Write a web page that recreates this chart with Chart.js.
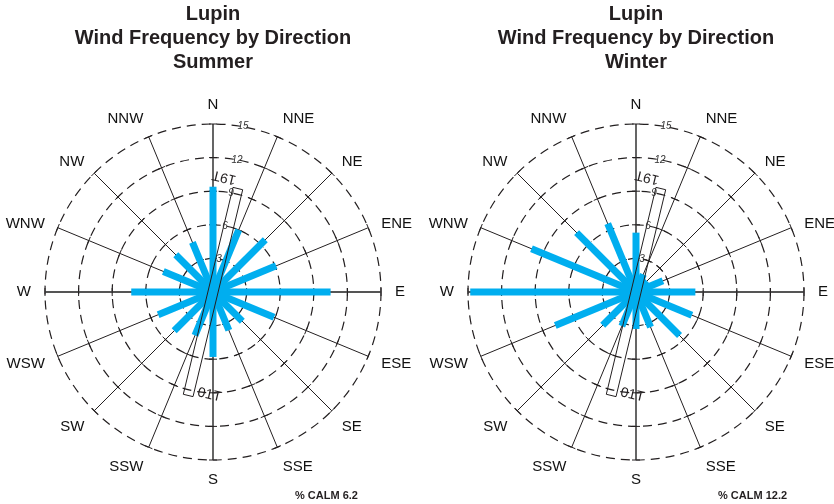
<!DOCTYPE html>
<html>
<head>
<meta charset="utf-8">
<title>Lupin wind frequency</title>
<script src="https://cdn.jsdelivr.net/npm/chart.js@4.4.1/dist/chart.umd.min.js"></script>
<style>
  html, body { margin: 0; padding: 0; background: #fff; overflow: hidden; width: 834px; height: 504px; }
  .wrap { position: absolute; top: 0; width: 420px; height: 504px; }
</style>
</head>
<body>
<div class="wrap" style="left:3px"><canvas id="summerChart" width="420" height="504"></canvas></div>
<div class="wrap" style="left:426px"><canvas id="winterChart" width="420" height="504"></canvas></div>
<script>
// data (% frequency per direction)
const directions = ['N', 'NNE', 'NE', 'ENE', 'E', 'ESE', 'SE', 'SSE', 'S', 'SSW', 'SW', 'WSW', 'W', 'WNW', 'NW', 'NNW'];
const summerFreq = [9.4, 6.0, 6.6, 6.1, 10.5, 5.9, 3.7, 3.7, 5.8, 4.2, 4.9, 5.3, 7.3, 4.8, 4.7, 4.8];
const winterFreq = [5.3, 1.7, 1.4, 2.6, 5.3, 5.4, 5.5, 3.4, 3.3, 3.3, 4.2, 7.8, 14.8, 10.1, 7.5, 6.6];
const ringTicks = [3, 6, 9, 12, 15];
const runwayLabels = ['19T', '01T'];
const summerCalm = 6.2;
const winterCalm = 12.2;

Chart.defaults.font.family = "'Liberation Sans', Arial, Helvetica, sans-serif";
Chart.defaults.color = '#231f20';

const INK = '#231f20';
const BAR = '#00aeef';

const roseDecor = {
    id: 'roseDecor',
    beforeDatasetsDraw(chart) {
        const ctx = chart.ctx;
        const r = chart.scales.r;
        // small ticks across every spoke
        ctx.save();
        ctx.strokeStyle = INK;
        ctx.lineWidth = 1;
        directions.forEach((d, i) => {
            const a = i * Math.PI / 8;
            const px = Math.cos(a), py = Math.sin(a);
            ringTicks.forEach(v => {
                const p = r.getPointPositionForValue(i, v);
                ctx.beginPath();
                ctx.moveTo(p.x - px * 4, p.y - py * 4);
                ctx.lineTo(p.x + px * 4, p.y + py * 4);
                ctx.stroke();
            });
        });
        ctx.restore();
    },
    afterDatasetsDraw(chart, args, opts) {
        const ctx = chart.ctx;
        const r = chart.scales.r;
        const cx = r.xCenter, cy = r.yCenter;
        const at = (deg, value) => {
            const d = r.getDistanceFromCenterForValue(value);
            const a = deg * Math.PI / 180;
            return { x: cx + d * Math.sin(a), y: cy - d * Math.cos(a) };
        };

        // wind bars
        const values = chart.data.datasets[0].data;
        ctx.save();
        ctx.strokeStyle = BAR;
        ctx.lineWidth = 7;
        ctx.lineCap = 'butt';
        values.forEach((v, i) => {
            const p = r.getPointPositionForValue(i, v);
            ctx.beginPath();
            ctx.moveTo(cx, cy);
            ctx.lineTo(p.x, p.y);
            ctx.stroke();
        });
        ctx.restore();

        // runway outline
        const th = opts.runwayAngle * Math.PI / 180;
        const half = r.getDistanceFromCenterForValue(opts.runwayHalfLength);
        const hw = 5;
        const ux = Math.sin(th), uy = -Math.cos(th);
        const nx = Math.cos(th), ny = Math.sin(th);
        ctx.save();
        ctx.strokeStyle = INK;
        ctx.lineWidth = 1;
        ctx.beginPath();
        ctx.moveTo(cx + ux * half + nx * hw, cy + uy * half + ny * hw);
        ctx.lineTo(cx + ux * half - nx * hw, cy + uy * half - ny * hw);
        ctx.lineTo(cx - ux * half - nx * hw, cy - uy * half - ny * hw);
        ctx.lineTo(cx - ux * half + nx * hw, cy - uy * half + ny * hw);
        ctx.closePath();
        ctx.stroke();

        ctx.fillStyle = INK;
        ctx.font = "14px 'Liberation Sans', Arial, sans-serif";
        ctx.textAlign = 'center';
        ctx.textBaseline = 'middle';
        let p = at(5.5, 10.3);
        ctx.save();
        ctx.translate(p.x, p.y);
        ctx.rotate(Math.PI + th);
        ctx.fillText(runwayLabels[0], 0, 0);
        ctx.restore();
        p = at(182, 9.2);
        ctx.save();
        ctx.translate(p.x, p.y);
        ctx.rotate(th);
        ctx.fillText(runwayLabels[1], 0, 0);
        ctx.restore();

        // ring values along the north side
        ctx.font = "italic 10px 'Liberation Sans', Arial, sans-serif";
        ctx.fillStyle = '#333';
        ringTicks.forEach(v => {
            const q = at(10.3, v);
            ctx.fillText(String(v), q.x, q.y);
        });

        // compass labels
        ctx.font = "15px 'Liberation Sans', Arial, sans-serif";
        ctx.fillStyle = '#111';
        const R0 = r.drawingArea + 14;
        directions.forEach((d, i) => {
            const a = i * Math.PI / 8;
            const sx = Math.sin(a), sy = -Math.cos(a);
            const w = ctx.measureText(d).width;
            const h = 11;
            const sgn = Math.abs(sx) < 0.01 ? 0 : Math.sign(sx);
            const ry = sy < 0 ? R0 - 10 * Math.pow(sx, 4) : R0 + 5 * Math.pow(Math.sin(2 * a), 2);
            const x = cx + R0 * sx + sgn * w / 2;
            const y = cy + ry * sy + Math.sign(sy) * sy * sy * h / 2;
            ctx.fillText(d, x, y);
        });

        // calm note
        ctx.font = "bold 11px 'Liberation Sans', Arial, sans-serif";
        ctx.fillStyle = INK;
        ctx.textAlign = 'left';
        ctx.textBaseline = 'alphabetic';
        ctx.fillText('% CALM ' + opts.calm, cx + 82, chart.height - 5);
        ctx.restore();
    }
};

function makeRose(id, season, values, calm) {
    return new Chart(document.getElementById(id), {
        type: 'radar',
        data: {
            labels: directions,
            datasets: [{
                label: season,
                data: values,
                showLine: false,
                fill: false,
                pointRadius: 0,
                pointHoverRadius: 0,
                borderWidth: 0
            }]
        },
        options: {
            responsive: false,
            animation: false,
            events: [],
            layout: { padding: { top: 0, bottom: 44, left: 0, right: 0 } },
            plugins: {
                legend: { display: false },
                tooltip: { enabled: false },
                title: {
                    display: true,
                    text: ['Lupin', 'Wind Frequency by Direction', season],
                    color: INK,
                    font: { size: 20, weight: 'bold', lineHeight: 1.2 },
                    padding: { top: 2, bottom: 50 }
                },
                roseDecor: { calm: calm, runwayAngle: 13.5, runwayHalfLength: 9.5 }
            },
            scales: {
                r: {
                    min: 0,
                    max: 15,
                    ticks: { display: false, stepSize: 3 },
                    pointLabels: { display: false },
                    grid: { circular: true, color: INK, lineWidth: 1.2 },
                    border: { dash: [9, 6] },
                    angleLines: {
                        color: ctx => (ctx.index % 4 === 0 ? '#555' : INK),
                        lineWidth: ctx => (ctx.index % 4 === 0 ? 1.8 : 1)
                    }
                }
            }
        },
        plugins: [roseDecor]
    });
}

makeRose('summerChart', 'Summer', summerFreq, summerCalm);
makeRose('winterChart', 'Winter', winterFreq, winterCalm);
</script>
</body>
</html>
